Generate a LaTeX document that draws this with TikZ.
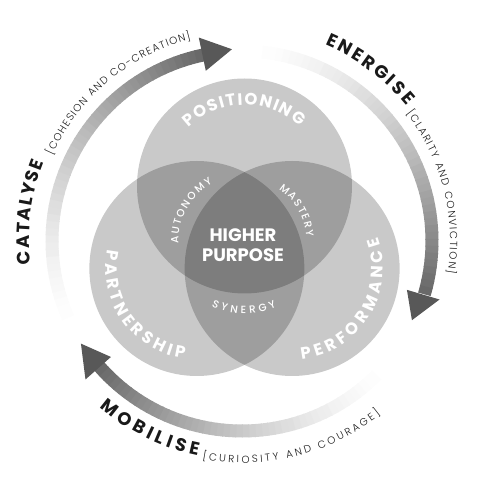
\documentclass[tikz,border=0pt]{standalone}
\usepackage{fontspec}
\setmainfont{Poppins}
\newfontfamily\poplight{Poppins Light}
\newfontfamily\popmedium{Poppins Medium}
\usetikzlibrary{decorations.text}

\definecolor{arrowdark}{RGB}{88,88,88}
\definecolor{labelink}{RGB}{25,25,25}

\newcommand\labbig{\bfseries\fontsize{18}{18}\selectfont}
\newcommand\labsmall{\poplight\fontsize{10.3}{10.3}\selectfont}
\newcommand\labring{\bfseries\fontsize{16.5}{16.5}\selectfont}
\newcommand\labinner{\popmedium\fontsize{10.5}{10.5}\selectfont}

\tikzset{
  venn/.style={fill=black, fill opacity=0.21},
  band/.style={line width=13pt},
  arrowtip/.style={fill=arrowdark},
  arctext/.style={decorate, decoration={text along path, text align={fit to path}, text={#1}}},
  whitetext/.style={decoration={text color=white}},
  inktext/.style={decoration={text color=labelink}},
}

\begin{document}
\begin{tikzpicture}[x=1pt, y=1pt]
\useasboundingbox (-242,-237) rectangle (248,241);

% the three circles
\begin{scope}[shift={(2.5,0)}]
\fill[venn] (90:55) circle[radius=107.5];
\fill[venn] (210:55) circle[radius=107.5];
\fill[venn] (330:55) circle[radius=107.5];

\begin{scope}[shift={(90:55)}]
\path[arctext={|\labring|POSITIONING}, whitetext] (134:81) arc[start angle=134, end angle=47, radius=81];
\end{scope}
\begin{scope}[shift={(210:55)}]
\path[arctext={|\labring|PARTNERSHIP}, whitetext] (168:91) arc[start angle=168, end angle=262, radius=91];
\end{scope}
\begin{scope}[shift={(330:55)}]
\path[arctext={|\labring|PERFORMANCE}, whitetext] (276:91) arc[start angle=276, end angle=380, radius=91];
\end{scope}

\path[arctext={|\labinner|AUTONOMY}, whitetext] (182.5:66) arc[start angle=182.5, end angle=119, radius=66];
\path[arctext={|\labinner|MASTERY}, whitetext] (56.5:62) arc[start angle=56.5, end angle=4, radius=62];
\path[arctext={|\labinner|SYNERGY}, whitetext] (243:73) arc[start angle=243, end angle=296, radius=73];

\node[text=white, font=\bfseries\fontsize{18}{20}\selectfont, align=center, inner sep=0pt] (purpose) at (-1.5,-4) {HIGHER\\PURPOSE};
\end{scope}

% the ring of arrows
\foreach \s/\e in {208/102, 88/-16, 319/221.5} {
  \foreach \i in {0,...,49} {
    \pgfmathsetmacro\a{\s-(\s-\e)*\i/50}
    \pgfmathsetmacro\d{(\s-\e)/50+0.3}
    \pgfmathtruncatemacro\p{92*((\i+0.5)/50)^1.5}
    \draw[band, draw=arrowdark!\p!white] (\a:190) arc[start angle=\a, delta angle=-\d, radius=190];
  }
}
\fill[arrowtip] (102:174) -- (93:192) -- (102:208) -- cycle;
\fill[arrowtip] (-16.5:172) -- (-25:187.5) -- (-16.5:206) -- cycle;
\fill[arrowtip] (221.5:175) -- (212.5:191) -- (221.5:209) -- cycle;

% ring labels
\path[arctext={|\labbig|CATALYSE}, inktext] (186.3:213) arc[start angle=186.3, end angle=158.2, radius=213];
\path[arctext={|\labsmall|[COHESION AND CO-CREATION]}, inktext] (155.6:208) arc[start angle=155.6, end angle=104.2, radius=208];
\path[arctext={|\labbig|ENERGISE}, inktext] (67:213) arc[start angle=67, end angle=39.5, radius=213];
\path[arctext={|\labsmall|[CLARITY AND CONVICTION]}, inktext] (37.8:208) arc[start angle=37.8, end angle=-9, radius=208];
\path[arctext={|\labbig|MOBILISE}, inktext] (229.5:219) arc[start angle=229.5, end angle=258.4, radius=219];
\path[arctext={|\labsmall|[CURIOSITY AND COURAGE]}, inktext] (259.7:222) arc[start angle=259.7, end angle=308.5, radius=222];
\end{tikzpicture}
\end{document}
